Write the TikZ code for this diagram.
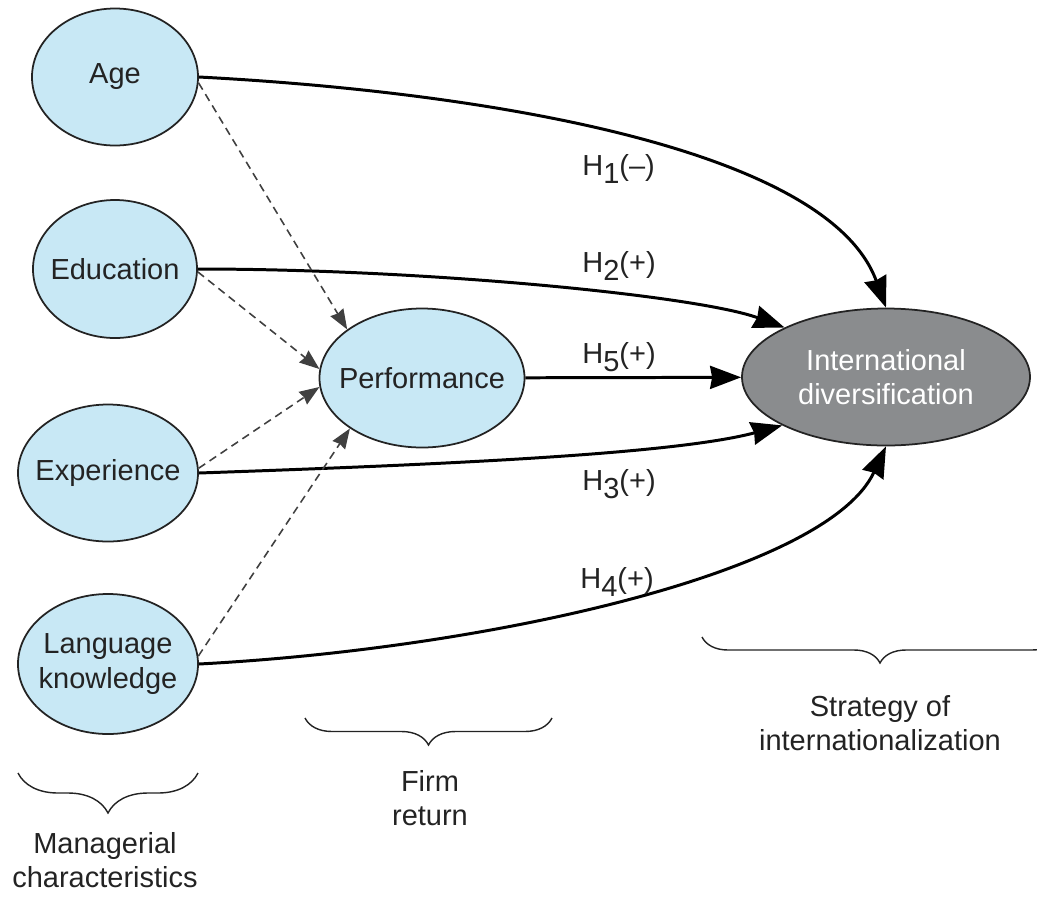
\documentclass[tikz,border=0pt]{standalone}
\usepackage{fontspec}
\setmainfont{Liberation Sans}
\usetikzlibrary{shapes.geometric,arrows.meta,decorations.pathreplacing}
\definecolor{lightblue}{RGB}{200,232,245}
\definecolor{darkgrey}{RGB}{138,140,142}
\definecolor{ink}{RGB}{35,35,35}

\begin{document}
\begin{tikzpicture}[font=\fontsize{16.5}{19.5}\selectfont]
  \tikzset{oval/.style={draw=ink,ellipse,line width=1pt,inner sep=-0.3cm,fill=lightblue,text=ink,align=center}}
  \tikzset{arrow/.style={draw=black,line width=1.7pt,-{Stealth[length=0.62cm,width=0.46cm,inset=0.04cm]}}}
  \tikzset{dasharrow/.style={draw=black!75,line width=0.9pt,dash pattern=on 4.5pt off 3pt,-{Stealth[length=0.4cm,width=0.3cm,inset=0.03cm]}}}
  \tikzset{hlabel/.style={anchor=base west,inner sep=0pt,text=ink}}
  \tikzset{grouptext/.style={anchor=north,inner sep=0pt,align=center,text=ink}}
  \tikzset{curly/.style={draw=ink,line width=0.8pt,decorate}}

  \useasboundingbox (0,0) rectangle (20.74,-17.94);

  % managerial characteristics
  \node[oval,minimum width=3.32cm,minimum height=2.74cm] (age) at (2.30,-1.54) {Age};
  \node[oval,minimum width=3.28cm,minimum height=2.76cm] (edu) at (2.30,-5.38) {Education};
  \node[oval,minimum width=3.60cm,minimum height=2.74cm] (exp) at (2.16,-9.46) {Experience};
  \node[oval,minimum width=3.60cm,minimum height=2.80cm] (lang) at (2.16,-13.28) {Language\\knowledge};

  \node[oval,minimum width=4.10cm,minimum height=2.78cm] (perf) at (8.44,-7.56) {Performance};
  \node[oval,fill=darkgrey,text=white,minimum width=5.76cm,minimum height=2.74cm] (intl) at (17.72,-7.54) {International\\diversification};

  % hypotheses
  \draw[arrow] (age.east) to[out=-3,in=110,in looseness=0.6] (intl.north);
  \draw[arrow] (edu.east) to[out=0,in=160,in looseness=0.4] (intl.154);
  \draw[arrow] (perf) -- (intl);
  \draw[arrow] (exp.east) to[out=2,in=195,in looseness=0.5] (intl.205);
  \draw[arrow] (lang.east) to[out=3,in=-115,in looseness=0.5] (intl.south);

  \node[hlabel] (h1) at (11.64,-3.50) {H\raisebox{-0.3em}{1}(–)};
  \node[hlabel] (h2) at (11.64,-5.44) {H\raisebox{-0.3em}{2}(+)};
  \node[hlabel] (h5) at (11.64,-7.26) {H\raisebox{-0.3em}{5}(+)};
  \node[hlabel] (h3) at (11.64,-9.80) {H\raisebox{-0.3em}{3}(+)};
  \node[hlabel] (h4) at (11.60,-11.76) {H\raisebox{-0.3em}{4}(+)};

  % mediation via performance
  \draw[dasharrow] (age.-4) -- (perf.147);
  \draw[dasharrow] (edu.-2) -- (perf.175);
  \draw[dasharrow] (exp.3) -- (perf.185);
  \draw[dasharrow] (lang.5) -- (perf.215);

  % groups
  \draw[curly,decoration={brace,mirror,amplitude=0.8cm}] (0.36,-15.46) -- (3.96,-15.46);
  \node[grouptext] (mgr) at (2.10,-16.64) {Managerial\\characteristics};
  \draw[curly,decoration={brace,mirror,amplitude=0.54cm}] (6.10,-14.36) -- (11.04,-14.36);
  \node[grouptext] (firm) at (8.60,-15.40) {Firm\\return};
  \draw[curly,decoration={brace,mirror,amplitude=0.52cm}] (14.04,-12.74) -- (21.16,-12.74);
  \node[grouptext] (strat) at (17.60,-13.90) {Strategy of\\internationalization};
\end{tikzpicture}
\end{document}
